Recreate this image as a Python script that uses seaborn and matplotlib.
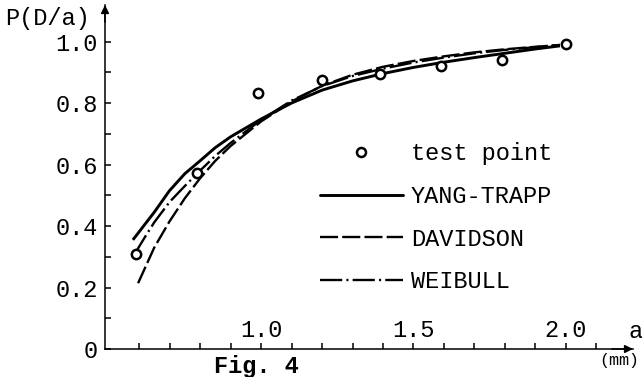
import numpy as np
import pandas as pd
import matplotlib
matplotlib.use("Agg")
import matplotlib.pyplot as plt
import seaborn as sns
from matplotlib.lines import Line2D

# ---------------- data ----------------
test_a = [0.59, 0.79, 0.99, 1.20, 1.39, 1.59, 1.79, 2.00]
test_p = [0.308, 0.574, 0.832, 0.875, 0.894, 0.919, 0.940, 0.993]

yang_a = [0.58, 0.65, 0.70, 0.75, 0.80, 0.85, 0.90, 1.00, 1.10, 1.20, 1.30, 1.40, 1.50, 1.60, 1.70, 1.80, 1.90, 1.98]
yang_p = [0.355, 0.445, 0.515, 0.570, 0.612, 0.655, 0.690, 0.748, 0.800, 0.842, 0.872, 0.896, 0.916, 0.933, 0.948, 0.962, 0.976, 0.986]

dav_a = [0.597, 0.65, 0.70, 0.75, 0.80, 0.85, 0.90, 1.00, 1.10, 1.20, 1.30, 1.40, 1.50, 1.60, 1.70, 1.80, 1.90, 1.98]
dav_p = [0.214, 0.330, 0.415, 0.490, 0.555, 0.612, 0.660, 0.740, 0.805, 0.856, 0.892, 0.918, 0.937, 0.952, 0.965, 0.975, 0.983, 0.989]

wei_a = [0.585, 0.62, 0.65, 0.70, 0.75, 0.80, 0.85, 0.90, 1.00, 1.10, 1.20, 1.30, 1.40, 1.50, 1.60, 1.70, 1.80, 1.90, 1.98]
wei_p = [0.308, 0.365, 0.412, 0.478, 0.530, 0.580, 0.628, 0.670, 0.745, 0.808, 0.855, 0.888, 0.912, 0.932, 0.948, 0.962, 0.973, 0.982, 0.989]

series_names = ["YANG-TRAPP", "DAVIDSON", "WEIBULL"]
point_label = "test point"

x_ticks = [0.6, 0.7, 0.8, 0.9, 1.0, 1.1, 1.2, 1.3, 1.4, 1.5, 1.6, 1.7, 1.8, 1.9, 2.0, 2.1]
x_label_pos = [1.0, 1.5, 2.0]
x_label_txt = ["1.0", "1.5", "2.0"]
y_ticks = [0.0, 0.2, 0.4, 0.6, 0.8, 1.0]
y_tick_txt = ["0", "0.2", "0.4", "0.6", "0.8", "1.0"]
y_minor = [0.1, 0.3, 0.5, 0.7, 0.9]

# ---------------- style ----------------
sns.set_theme(style="white")
plt.rcParams["font.family"] = ["Liberation Mono", "DejaVu Sans Mono"]
plt.rcParams["lines.scale_dashes"] = False
FS = 17

W, H = 642, 377
fig = plt.figure(figsize=(W / 100, H / 100), dpi=100)
ax = fig.add_axes([105 / W, 1 - 349 / H, (633 - 105) / W, (349 - 5) / H])

styles = {
    "YANG-TRAPP": dict(linestyle="-", lw=2.1),
    "DAVIDSON": dict(linestyle=(0, (13, 3)), lw=1.7),
    "WEIBULL": dict(linestyle=(0, (16, 3, 1.5, 3)), lw=1.7),
}
curves = {
    "YANG-TRAPP": (yang_a, yang_p),
    "DAVIDSON": (dav_a, dav_p),
    "WEIBULL": (wei_a, wei_p),
}
for name in series_names:
    a, p = curves[name]
    df = pd.DataFrame({"a": a, "P": p})
    sns.lineplot(data=df, x="a", y="P", ax=ax, color="black",
                 estimator=None, sort=False, legend=False,
                 solid_capstyle="butt", **styles[name])

sns.scatterplot(x=test_a, y=test_p, ax=ax, marker="o", s=45,
                facecolor="white", edgecolor="black", linewidth=1.8,
                zorder=5, legend=False)

# ---------------- axes ----------------
ax.set_xlim(0.4885, 2.2197)
ax.set_ylim(0, 1.119)
ax.set_xlabel("")
ax.set_ylabel("")
for s in ["top", "right"]:
    ax.spines[s].set_visible(False)
for s in ["left", "bottom"]:
    ax.spines[s].set_color("black")
    ax.spines[s].set_linewidth(1.1)

ax.set_xticks(x_ticks)
ax.set_xticklabels([])
ax.set_yticks(y_ticks)
ax.set_yticklabels(y_tick_txt)
ax.set_yticks(y_minor, minor=True)
ax.tick_params(axis="both", which="both", direction="in", length=4,
               width=1.1, color="black", bottom=True, left=True,
               top=False, right=False)
ax.tick_params(axis="y", labelsize=FS, pad=5, labelcolor="black")

for xp, t in zip(x_label_pos, x_label_txt):
    ax.text(xp, 0.024, t, ha="center", va="bottom", fontsize=FS, color="black")

# axis arrows
ax.annotate("", xy=(1.0, 0), xytext=(0.96, 0), xycoords="axes fraction",
            arrowprops=dict(arrowstyle="-|>", color="black", lw=1.1,
                            mutation_scale=12, shrinkA=0, shrinkB=0))
ax.annotate("", xy=(0, 1.0), xytext=(0, 0.95), xycoords="axes fraction",
            arrowprops=dict(arrowstyle="-|>", color="black", lw=1.1,
                            mutation_scale=12, shrinkA=0, shrinkB=0))

# labels
fig.text(5 / W, 1 - 18 / H, "P(D/a)", ha="left", va="center", fontsize=FS, color="black")
fig.text(636 / W, 1 - 332 / H, "a", ha="center", va="center", fontsize=FS, color="black")
fig.text(619 / W, 1 - 360 / H, "(mm)", ha="center", va="center", fontsize=12, color="black")
fig.text(256 / W, 1 - 366 / H, "Fig. 4", ha="center", va="center", fontsize=FS,
         fontweight="bold", color="black")

# legend
handles = [
    Line2D([], [], marker="o", ls="none", mfc="white", mec="black", ms=6.5, mew=1.8),
    Line2D([], [], color="black", **styles["YANG-TRAPP"]),
    Line2D([], [], color="black", **styles["DAVIDSON"]),
    Line2D([], [], color="black", **styles["WEIBULL"]),
]
labels = [point_label] + series_names
leg = ax.legend(handles, labels, loc="upper left",
                bbox_to_anchor=(320 / W, 1 - 142 / H), bbox_transform=fig.transFigure,
                frameon=False, handlelength=3.5, handletextpad=0.35,
                labelspacing=0.84, borderpad=0, borderaxespad=0, fontsize=FS)
for t in leg.get_texts():
    t.set_color("black")

fig.savefig("out.png", dpi=100, facecolor="white")
